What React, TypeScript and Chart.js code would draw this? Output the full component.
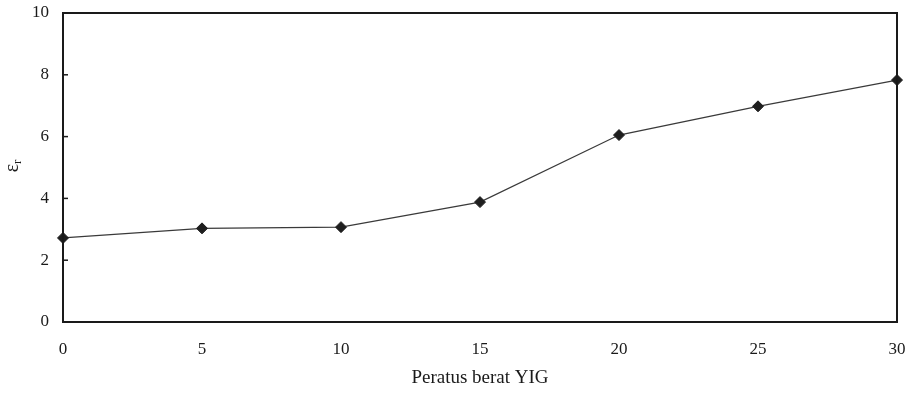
import React, { useEffect, useRef } from "react";
import Chart from "chart.js/auto";

const yigPercent = [0, 5, 10, 15, 20, 25, 30];
const epsilonR = [2.72, 3.03, 3.07, 3.88, 6.05, 6.98, 7.83];
const xTickValues = [0, 5, 10, 15, 20, 25, 30];
const yTickValues = [0, 2, 4, 6, 8, 10];
const xTitle = "Peratus berat YIG";
const yTitleMain = "ε";
const yTitleSub = "r";

const FONT = "'Liberation Serif', 'Times New Roman', serif";
const INK = "#1a1a1a";

const framePlugin = {
  id: "framePlugin",
  afterDraw(chart: any) {
    const { ctx, chartArea } = chart;
    const ys = chart.scales.y;
    const xs = chart.scales.x;
    ctx.save();
    // box
    ctx.strokeStyle = INK;
    ctx.lineWidth = 2;
    ctx.strokeRect(chartArea.left, chartArea.top, chartArea.right - chartArea.left, chartArea.bottom - chartArea.top);
    // inside ticks on y axis
    ctx.lineWidth = 1.5;
    yTickValues.forEach((v) => {
      const py = ys.getPixelForValue(v);
      ctx.beginPath();
      ctx.moveTo(chartArea.left, py);
      ctx.lineTo(chartArea.left + 5, py);
      ctx.stroke();
    });
    // tick labels
    ctx.fillStyle = INK;
    ctx.font = `17px ${FONT}`;
    ctx.textBaseline = "middle";
    ctx.textAlign = "right";
    yTickValues.forEach((v) => {
      ctx.fillText(String(v), chartArea.left - 14, ys.getPixelForValue(v));
    });
    ctx.textAlign = "center";
    xTickValues.forEach((v) => {
      ctx.fillText(String(v), xs.getPixelForValue(v), chartArea.bottom + 28);
    });
    // x title
    ctx.font = `19px ${FONT}`;
    ctx.fillText(xTitle, (chartArea.left + chartArea.right) / 2, 378);
    // y title rotated
    ctx.translate(13, 166);
    ctx.rotate(-Math.PI / 2);
    ctx.textAlign = "left";
    ctx.font = `20px ${FONT}`;
    const w = ctx.measureText(yTitleMain).width;
    ctx.font = `13px ${FONT}`;
    const ws = ctx.measureText(yTitleSub).width;
    const start = -(w + ws) / 2;
    ctx.font = `20px ${FONT}`;
    ctx.fillText(yTitleMain, start, 0);
    ctx.font = `13px ${FONT}`;
    ctx.fillText(yTitleSub, start + w, 5);
    ctx.restore();
  },
};

export default function App() {
  const ref = useRef<HTMLCanvasElement>(null);
  useEffect(() => {
    if (!ref.current) return;
    const chart = new Chart(ref.current, {
      type: "line",
      data: {
        datasets: [
          {
            data: yigPercent.map((x, i) => ({ x, y: epsilonR[i] })),
            borderColor: "#3a3a3a",
            borderWidth: 1.2,
            pointStyle: "rectRot",
            pointRadius: 5.5,
            pointBackgroundColor: "#1e1e1e",
            pointBorderColor: "#1e1e1e",
            pointBorderWidth: 1,
            tension: 0,
            clip: false,
          } as any,
        ],
      },
      options: {
        responsive: false,
        animation: false,
        layout: { padding: { top: 13, right: 17, left: 0, bottom: 0 } },
        plugins: { legend: { display: false }, tooltip: { enabled: false } },
        scales: {
          x: {
            type: "linear",
            min: 0,
            max: 30,
            ticks: { display: false, stepSize: 5 },
            grid: { display: false, drawTicks: false },
            border: { display: false },
            afterFit: (s: any) => { s.height = 78; },
          },
          y: {
            min: 0,
            max: 10,
            ticks: { display: false, stepSize: 2 },
            grid: { display: false, drawTicks: false },
            border: { display: false },
            afterFit: (s: any) => { s.width = 63; },
          },
        },
      },
      plugins: [framePlugin],
    });
    return () => chart.destroy();
  }, []);
  return (
    <div style={{ position: "fixed", left: 0, top: 0, width: 914, height: 400, background: "#fff" }}>
      <canvas ref={ref} width={914} height={400} style={{ width: 914, height: 400 }} />
    </div>
  );
}
